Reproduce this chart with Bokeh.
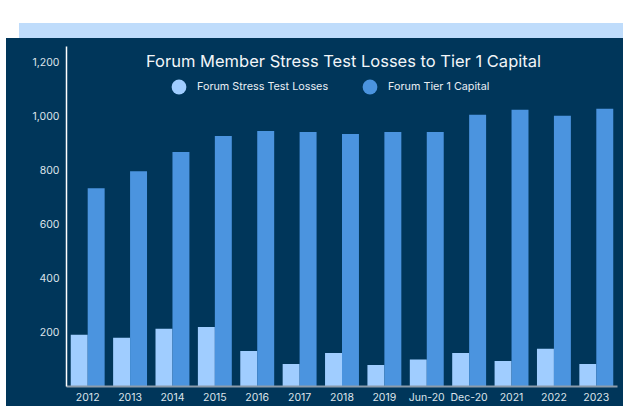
import math
from bokeh.plotting import figure
from bokeh.models import (ColumnDataSource, FactorRange, Legend, LegendItem, Label,
                          Div, NumeralTickFormatter)
from bokeh.transform import dodge
from bokeh.layouts import column
from bokeh.embed import file_html
from bokeh.resources import INLINE

categories = ["2012", "2013", "2014", "2015", "2016", "2017", "2018", "2019",
              "Jun-20", "Dec-20", "2021", "2022", "2023"]
stress_losses = [191, 180, 213, 220, 131, 83, 124, 79, 100, 124, 94, 139, 83]
tier1_capital = [732, 795, 866, 925, 944, 940, 933, 940, 940, 1004, 1022, 1000, 1026]
y_ticks = [200, 400, 600, 800, 1000, 1200]

NAVY = "#00365a"
LIGHT = "#a0cdff"
DARK = "#4b94df"
BAND = "#bfdcfb"
FONT = "Inter"

src = ColumnDataSource(dict(cat=categories, losses=stress_losses, capital=tier1_capital))

p = figure(x_range=FactorRange(factors=categories, range_padding=0),
           y_range=(0, 1256), width=617, height=368,
           output_backend="svg", toolbar_location=None,
           background_fill_color=NAVY, background_fill_alpha=0, border_fill_color=NAVY,
           min_border_left=60, min_border_right=6, min_border_top=8, min_border_bottom=20,
           margin=(0, 0, 0, 6), styles={"background-color": NAVY})
p.outline_line_color = None
p.grid.visible = False

p.vbar(x=dodge("cat", -0.2, range=p.x_range), top="losses", width=0.4, source=src,
       fill_color=LIGHT, line_color=None)
p.vbar(x=dodge("cat", 0.2, range=p.x_range), top="capital", width=0.4, source=src,
       fill_color=DARK, line_color=None)

# legend markers (not drawn in the plot: y is NaN)
legend_src = ColumnDataSource(dict(x=[categories[0]], y=[float("nan")]))
r1 = p.scatter(x="x", y="y", source=legend_src, marker="circle", size=15,
               fill_color=LIGHT, line_color=None)
r2 = p.scatter(x="x", y="y", source=legend_src, marker="circle", size=15,
               fill_color=DARK, line_color=None)
legend = Legend(items=[LegendItem(label="Forum Stress Test Losses", renderers=[r1]),
                       LegendItem(label="Forum Tier 1 Capital", renderers=[r2])],
                orientation="horizontal", location=(94, 281),
                glyph_width=37, glyph_height=37, label_standoff=-5, spacing=23,
                padding=0, margin=0, background_fill_alpha=0, border_line_color=None,
                label_text_color="#e8eef4", label_text_font=FONT, label_text_font_size="10.8px")
p.add_layout(legend, "center")

# axes
p.yaxis.ticker = y_ticks
p.yaxis.formatter = NumeralTickFormatter(format="0,0")
for ax in (p.xaxis[0], p.yaxis[0]):
    ax.major_tick_line_color = None
    ax.minor_tick_line_color = None
    ax.major_tick_out = 0
    ax.major_tick_in = 0
    ax.major_label_text_color = "#dde4ea"
    ax.major_label_text_font = FONT
    ax.major_label_text_font_size = "10.5px"
p.yaxis.axis_line_color = "white"
p.yaxis.axis_line_width = 1.5
p.yaxis.major_label_standoff = 7
p.xaxis.axis_line_color = "#8c9cab"
p.xaxis.axis_line_width = 2
p.xaxis.major_label_standoff = 4

p.add_layout(Label(x=337, y=22, x_units="canvas", y_units="canvas",
                   text="Forum Member Stress Test Losses to Tier 1 Capital",
                   text_align="center", text_baseline="middle",
                   text_color="#f2f5f8", text_font=FONT, text_font_size="16.5px"))
p.add_layout(Label(x=17, y=151, x_units="canvas", y_units="canvas",
                   text="Amount ($ billions)", angle=math.pi / 2,
                   text_align="center", text_baseline="middle",
                   text_color="#e8eef4", text_font=FONT, text_font_size="8px"))

band = Div(width=604, height=15, margin=(23, 0, 0, 19),
           styles={"background-color": BAND})
layout = column(band, p, spacing=0)

open("out.html", "w").write(file_html(layout, INLINE))
